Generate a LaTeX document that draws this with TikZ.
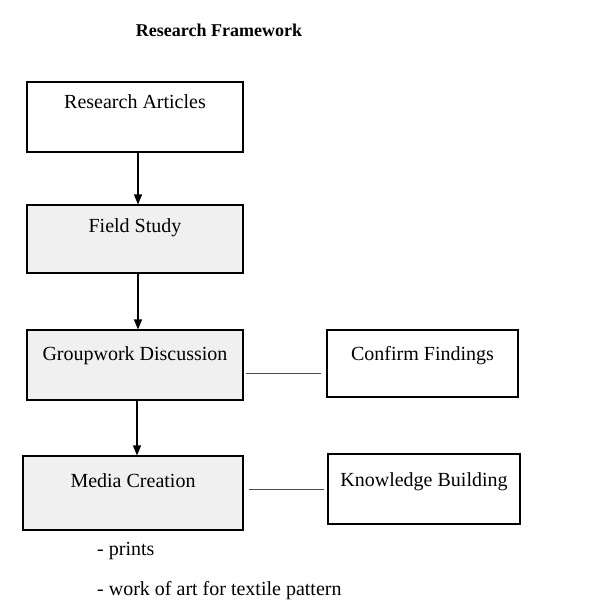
\documentclass[tikz,border=0pt]{standalone}
\usepackage{fontspec}
\setmainfont{Liberation Serif}
\usetikzlibrary{arrows.meta}
\begin{document}
\begin{tikzpicture}[x=1pt,y=-1pt,
	box/.style={draw,line width=1.1pt,inner xsep=0pt,inner ysep=0pt,font=\fontsize{20}{24}\selectfont},
	flow/.style={-{Triangle[length=10pt,width=8pt]},line width=1.3pt},
	link/.style={draw=black!70,line width=0.8pt}]
	
	\useasboundingbox (0,0) rectangle (595,612);
	
	\node[font=\fontsize{18}{22}\selectfont\bfseries] (title) at (219,30) {Research Framework};
	
	% left column
	\node[box,fill=white,minimum width=216pt,text height=27pt,text depth=43pt] (art) at (135,117) {Research Articles};
	\node[box,fill=gray!12,minimum width=216pt,text height=28pt,text depth=40pt] (field) at (135,239) {Field Study};
	\node[box,fill=gray!12,minimum width=216pt,text height=30pt,text depth=40pt] (group) at (135,365) {Groupwork Discussion};
	\node[box,fill=gray!12,minimum width=220pt,text height=31pt,text depth=43pt] (media) at (133,493) {Media Creation};
	
	% right column
	\node[box,fill=white,minimum width=191pt,text height=30pt,text depth=37pt] (confirm) at (422.5,363.5) {Confirm Findings};
	\node[box,fill=white,minimum width=192pt,text height=32pt,text depth=38pt] (know) at (424,489) {Knowledge Building};
	
	\draw[flow] ([xshift=3pt]art.south) -- ([xshift=3pt]art.south |- field.north);
	\draw[flow] ([xshift=3pt]field.south) -- ([xshift=3pt]field.south |- group.north);
	\draw[flow] ([xshift=2pt]group.south) -- ([xshift=2pt]group.south |- media.north);
	
	\draw[link] ([shift={(2,8)}]group.east) -- ([shift={(-5,9.5)}]confirm.west);
	\draw[link] ([shift={(5,-4)}]media.east) -- ([shift={(-3,0)}]know.west);
	
	\node[anchor=base west,inner sep=0pt,font=\fontsize{20}{24}\selectfont] (prints) at (97,555) {- prints};
	\node[anchor=base west,inner sep=0pt,font=\fontsize{20}{24}\selectfont] (textile) at (97,595) {- work of art for textile pattern};
	
\end{tikzpicture}
\end{document}
